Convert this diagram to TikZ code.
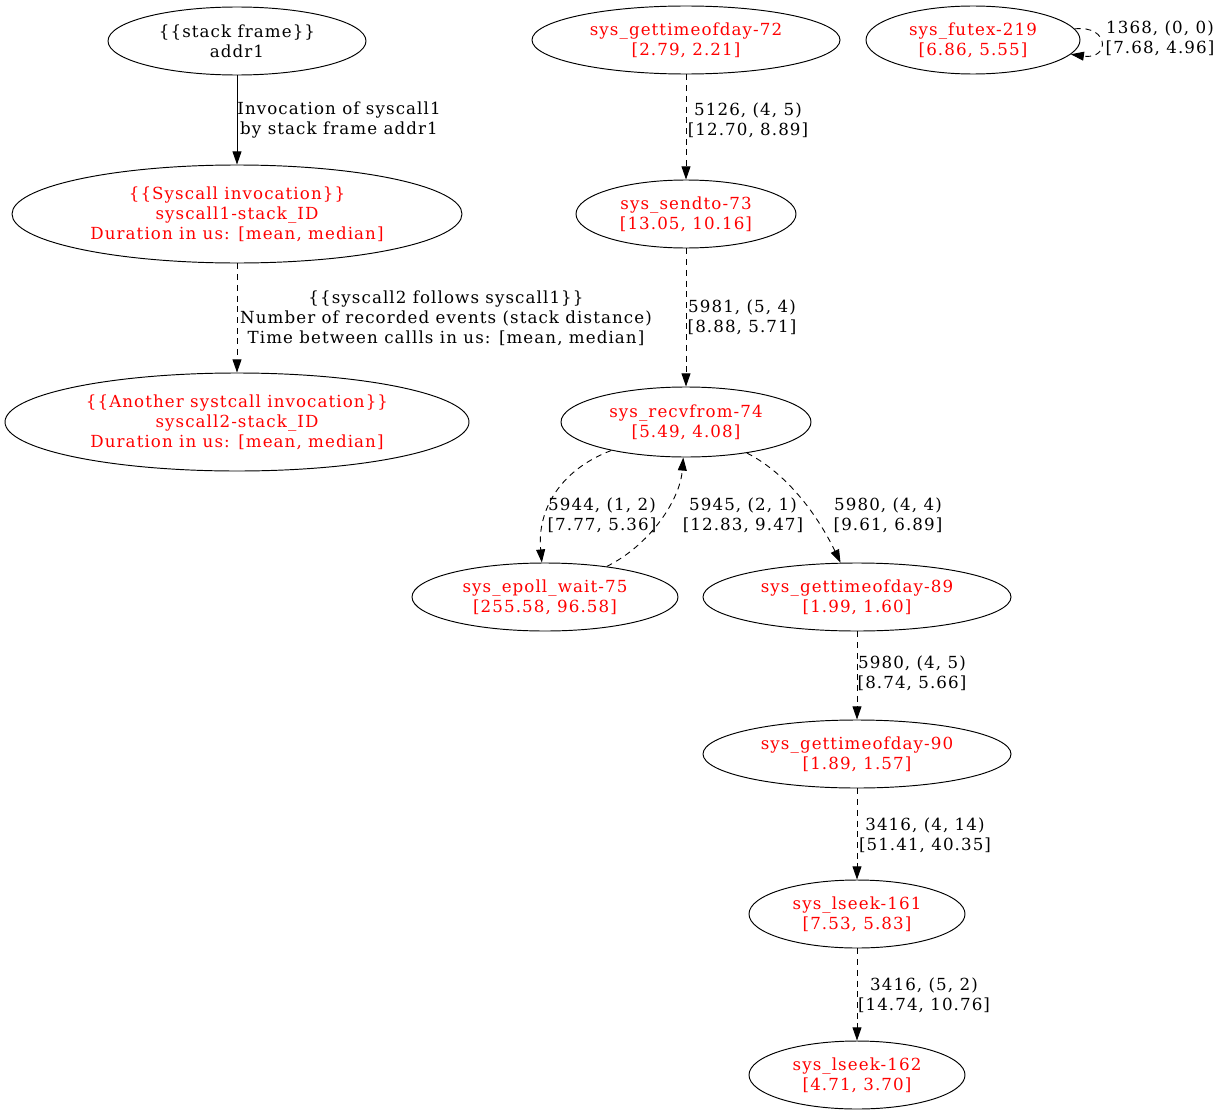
\documentclass[tikz,border=0pt]{standalone}
\usepackage{fontspec}
\setmainfont[LetterSpace=6.5]{DejaVu Serif}
\usetikzlibrary{shapes.geometric,arrows.meta}
\begin{document}
\begin{tikzpicture}[x=0.84pt,y=-0.84pt,
  every node/.style={font=\fontsize{14pt}{16.8pt}\selectfont, align=center, inner sep=0pt},
  ell/.style 2 args={ellipse, draw, line width=0.8pt,
    minimum width={2*#1*0.84pt}, minimum height={2*#2*0.84pt}},
  sysc/.style={text=red},
  edge/.style={line width=0.75pt, -{Triangle[length=11pt,width=7.5pt]}},
  follow/.style={edge, dash pattern=on 5pt off 4pt},
  elabel/.style={fill=none}]
\useasboundingbox (0,0) rectangle (1221,1117);

% legend column
\node[ell={129}{34}] (sf) at (237,41) {\{\{stack frame\}\}\\addr1};
\node[ell={225}{49}, sysc] (s1) at (237,214) {\{\{Syscall invocation\}\}\\syscall1-stack\_ID\\Duration in us: [mean, median]};
\node[ell={232}{49}, sysc] (s2) at (237,422) {\{\{Another systcall invocation\}\}\\syscall2-stack\_ID\\Duration in us: [mean, median]};

% traced syscalls
\node[ell={154}{34}, sysc] (g72) at (686,40) {sys\_gettimeofday-72\\{}[2.79, 2.21]};
\node[ell={107}{34}, sysc] (fx) at (973,40) {sys\_futex-219\\{}[6.86, 5.55]};
\node[ell={110}{34}, sysc] (st) at (686,214) {sys\_sendto-73\\{}[13.05, 10.16]};
\node[ell={125}{35}, sysc] (rf) at (686,422) {sys\_recvfrom-74\\{}[5.49, 4.08]};
\node[ell={133}{34}, sysc] (ep) at (545,597) {sys\_epoll\_wait-75\\{}[255.58, 96.58]};
\node[ell={154}{34}, sysc] (g89) at (857,597) {sys\_gettimeofday-89\\{}[1.99, 1.60]};
\node[ell={154}{34}, sysc] (g90) at (857,754) {sys\_gettimeofday-90\\{}[1.89, 1.57]};
\node[ell={108}{34}, sysc] (l161) at (857,914) {sys\_lseek-161\\{}[7.53, 5.83]};
\node[ell={108}{34}, sysc] (l162) at (857,1075) {sys\_lseek-162\\{}[4.71, 3.70]};

% legend edges
\draw[edge] (sf) -- (s1);
\node[elabel] (lab1) at (339,120) {Invocation of syscall1\\by stack frame addr1};
\draw[follow] (s1) -- (s2);
\node[elabel] (lab2) at (446,318) {\{\{syscall2 follows syscall1\}\}\\Number of recorded events (stack distance)\\Time between callls in us: [mean, median]};

% transitions
\draw[follow] (g72) -- (st);
\node[elabel] (e1) at (748,120) {5126, (4, 5)\\{}[12.70, 8.89]};
\draw[follow] (st) -- (rf);
\node[elabel] (e2) at (742,317) {5981, (5, 4)\\{}[8.88, 5.71]};
\draw[follow] (rf) .. controls (560,470) and (537,510) .. (ep);
\node[elabel] (e3) at (602,515) {5944, (1, 2)\\{}[7.77, 5.36]};
\draw[follow] (ep) .. controls (650,545) and (680,500) .. (rf);
\node[elabel] (e4) at (743,515) {5945, (2, 1)\\{}[12.83, 9.47]};
\draw[follow] (rf) .. controls (790,475) and (820,520) .. (g89);
\node[elabel] (e5) at (888,515) {5980, (4, 4)\\{}[9.61, 6.89]};
\draw[follow] (g89) -- (g90);
\node[elabel] (e6) at (912,673) {5980, (4, 5)\\{}[8.74, 5.66]};
\draw[follow] (g90) -- (l161);
\node[elabel] (e7) at (925,835) {3416, (4, 14)\\{}[51.41, 40.35]};
\draw[follow] (l161) -- (l162);
\node[elabel] (e8) at (924,995) {3416, (5, 2)\\{}[14.74, 10.76]};
\draw[follow] (fx) .. controls (1110,25) and (1110,60) .. (fx);
\node[elabel] (e9) at (1160,38) {1368, (0, 0)\\{}[7.68, 4.96]};
\end{tikzpicture}
\end{document}
